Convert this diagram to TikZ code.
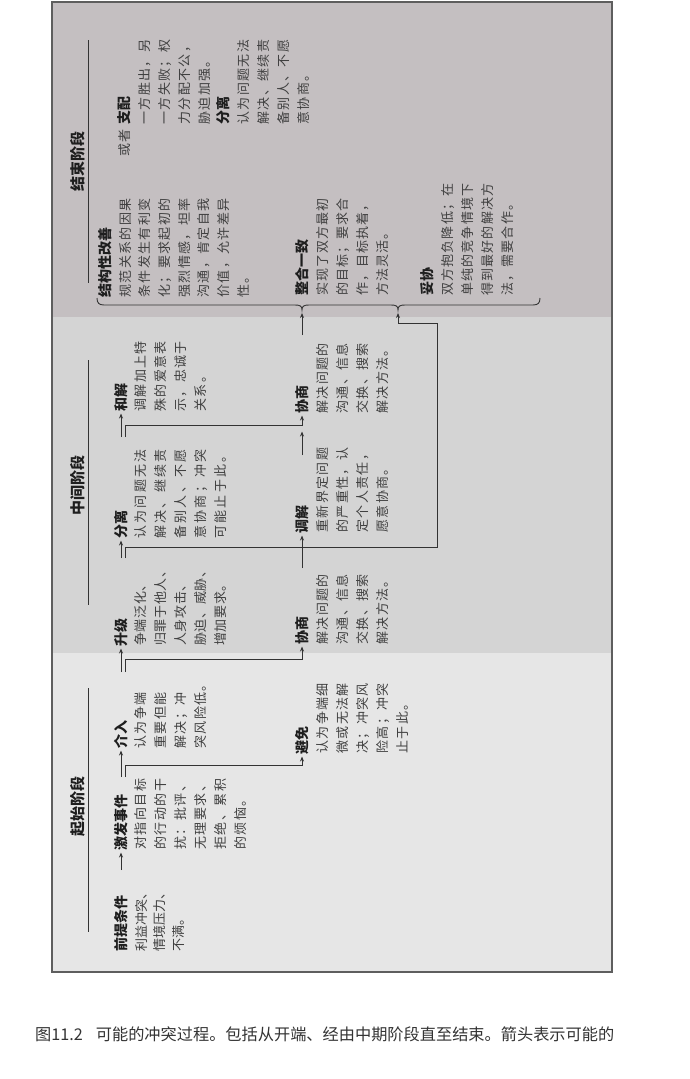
\documentclass[tikz,border=0pt]{standalone}
\usepackage{fontspec}
\newfontfamily\cjk{Noto Sans CJK SC}
\usetikzlibrary{arrows.meta}
\definecolor{startc}{HTML}{E6E6E6}
\definecolor{midc}{HTML}{D4D4D4}
\definecolor{endc}{HTML}{C4BFC1}
\definecolor{framec}{HTML}{5E5E5E}
\definecolor{headc}{HTML}{1E1E1E}
\definecolor{bodyc}{HTML}{404040}
\definecolor{linec}{HTML}{333333}
\definecolor{capc}{HTML}{333333}
\newcommand\bodyfont[1]{\cjk\fontsize{13}{20}\selectfont\addfontfeature{LetterSpace=#1}}
\tikzset{
  hd/.style={rotate=90, anchor=west, inner sep=0pt, text=headc, font=\cjk\bfseries\fontsize{14}{16}\selectfont},
  bd/.style={rotate=90, anchor=north west, inner sep=0pt, align=left, text=bodyc, font=\bodyfont{#1}},
  bd/.default=11,
  pl/.style={rotate=90, anchor=west, inner sep=0pt, text=bodyc, font=\bodyfont{11}},
  stt/.style={rotate=90, anchor=center, inner sep=0pt, text=headc, font=\cjk\bfseries\fontsize{15}{17}\selectfont},
  rulel/.style={draw=linec, line width=0.9pt},
  ln/.style={draw=linec, line width=1pt},
  arr/.style={draw=linec, line width=1pt, -{Stealth[length=5pt,width=4pt]}, shorten >=1.5pt}
}
\begin{document}
\begin{tikzpicture}[x=1pt,y=-1pt]
\useasboundingbox (0,0) rectangle (690,1079);
\fill[white] (0,0) rectangle (690,1079);
% panels
\fill[endc] (52,2) rectangle (612,317);
\fill[midc] (52,317) rectangle (612,653);
\fill[startc] (52,653) rectangle (612,972);
\draw[framec, line width=1.6pt] (52,2) rectangle (612,972);
% stage titles
\node[stt] (t1) at (78,806) {起始阶段};
\draw[rulel] (88,688) -- (88,932);
\node[stt] (t2) at (78,485) {中间阶段};
\draw[rulel] (88,360) -- (88,605);
\node[stt] (t3) at (78,161) {结束阶段};
\draw[rulel] (88,40) -- (88,283);
% start stage
\node[hd] (qt) at (121,952) {前提条件};
\node[bd, font=\cjk\fontsize{13}{18.5}\selectfont] (qtb) at (135,952) {利益冲突、\\情境压力、\\不满。};
\node[hd] (jf) at (121,851) {激发事件};
\node[bd=12] (jfb) at (134,850) {对指向目标\\的行动的干\\扰：批评、\\无理要求、\\拒绝、累积\\的烦恼。};
\node[hd] (jr) at (121,749) {介入};
\node[bd] (jrb) at (134,749) {认为争端\\重要但能\\解决；冲\\突风险低。};
\node[hd] (bm) at (302,755) {避免};
\node[bd] (bmb) at (316,754) {认为争端细\\微或无法解\\决；冲突风\\险高；冲突\\止于此。};
% middle stage
\node[hd] (sj) at (121,647) {升级};
\node[bd=5] (sjb) at (134,646) {争端泛化、\\归罪于他人、\\人身攻击、\\胁迫、威胁、\\增加要求。};
\node[hd] (xs1) at (302,645) {协商};
\node[bd] (xs1b) at (316,645) {解决问题的\\沟通、信息\\交换、搜索\\解决方法。};
\node[hd] (fl) at (121,539) {分离};
\node[bd=18] (flb) at (134,539) {认为问题无法\\解决、继续责\\备别人、不愿\\意协商；冲突\\可能止于此。};
\node[hd] (tj) at (302,534) {调解};
\node[bd] (tjb) at (316,533) {重新界定问题\\的严重性，认\\定个人责任，\\愿意协商。};
\node[hd] (hj) at (121,412) {和解};
\node[bd] (hjb) at (134,412) {调解加上特\\殊的爱意表\\示，忠诚于\\关系。};
\node[hd] (xs2) at (302,414) {协商};
\node[bd] (xs2b) at (316,414) {解决问题的\\沟通、信息\\交换、搜索\\解决方法。};
% end stage
\node[hd] (jg) at (105,298) {结构性改善};
\node[bd, font=\cjk\fontsize{13}{19.7}\selectfont\addfontfeature{LetterSpace=11}] (jgb) at (119,298) {规范关系的因果\\条件发生有利变\\化；要求起初的\\强烈情感，坦率\\沟通，肯定自我\\价值，允许差异\\性。};
\node[pl] (hz) at (125,157) {或者};
\node[hd] (zp) at (124,125) {支配};
\node[bd] (zpb) at (138,125) {一方胜出，另\\一方失败；权\\力分配不公，\\胁迫加强。};
\node[hd] (fl2) at (223.5,125) {分离};
\node[bd] (fl2b) at (237.5,125) {认为问题无法\\解决、继续责\\备别人、不愿\\意协商。};
\node[hd] (zh) at (302,296) {整合一致};
\node[bd=8] (zhb) at (316,296) {实现了双方最初\\的目标；要求合\\作，目标执着，\\方法灵活。};
\node[hd] (tx) at (427,296) {妥协};
\node[bd=9] (txb) at (441,296) {双方抱负降低；在\\单纯的竞争情境下\\得到最好的解决方\\法，需要合作。};
% brace
\coordinate (cusp1) at (302,310);
\coordinate (cusp2) at (398,310);
\draw[ln, line width=0.9pt] (97,298) .. controls (97,303) and (99,305) .. (104,305) -- (295,305) .. controls (300,305) and (302,306) .. (cusp1) .. controls (302,306) and (304,305) .. (309,305) -- (391,305) .. controls (396,305) and (398,306) .. (cusp2) .. controls (398,306) and (400,305) .. (405,305) -- (533,305) .. controls (538,305) and (540,303) .. (540,298);
% connectors
\coordinate (s0) at (121,870);
\draw[arr] (s0) -- (jf.west);
\coordinate (s1) at (121,777);
\coordinate (s1r) at (125.5,777);
\coordinate (k1) at (302,765);
\draw[arr] (s1) -- (jr.west);
\draw[arr] (s1r) |- (k1) -- (bm.west);
\coordinate (s2) at (121,672);
\coordinate (s2r) at (125.5,672);
\coordinate (k2) at (302,659);
\draw[arr] (s2) -- (sj.west);
\draw[arr] (s2r) |- (k2) -- (xs1.west);
\coordinate (s3) at (121,558);
\coordinate (s3r) at (125.5,558);
\coordinate (k3) at (302,547);
\draw[arr] (s3) -- (fl.west);
\draw[arr] (s3r) |- (k3) -- (tj.west);
\coordinate (s4) at (302,568);
\draw[ln] (s4) -- (k3);
\coordinate (k4) at (437,323);
\coordinate (k5) at (398,323);
\draw[arr, shorten >=3pt] (k3) -| (k4) -- (k5) -- (cusp2);
\coordinate (s5) at (121,437);
\coordinate (s5r) at (125.5,437);
\coordinate (k6) at (302,425);
\draw[arr] (s5) -- (hj.west);
\draw[arr] (s5r) |- (k6) -- (xs2.west);
\coordinate (s6) at (302,455);
\coordinate (k7) at (302,430);
\draw[arr] (s6) -- (k7);
\coordinate (s7) at (302,335);
\draw[arr, shorten >=3pt] (s7) -- (cusp1);
% caption
\node[anchor=west, inner sep=0pt, text=capc, font=\cjk\fontsize{16.2}{18}\selectfont] (cap) at (35,1034) {图11.2\hspace{13pt}可能的冲突过程。包括从开端、经由中期阶段直至结束。箭头表示可能的};
\end{tikzpicture}
\end{document}
